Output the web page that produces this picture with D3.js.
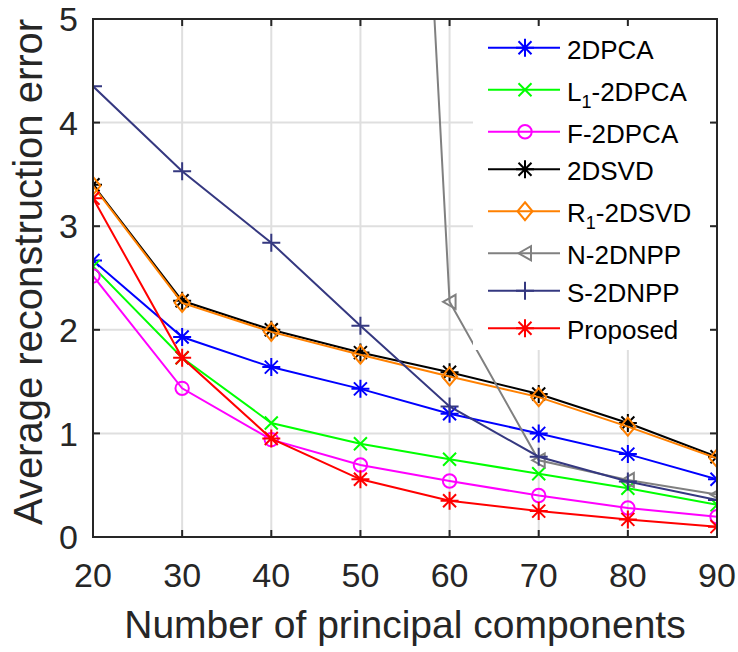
<!DOCTYPE html>
<html>
<head>
<meta charset="utf-8">
<script src="https://cdn.jsdelivr.net/npm/d3@7"></script>
<style>
  body { margin: 0; background: #fff; }
  svg { font-family: "Liberation Sans", Arial, Helvetica, sans-serif; }
</style>
</head>
<body>
<div id="chart"></div>
<script>
// number of principal components (x axis)
var nComponents = [20, 30, 40, 50, 60, 70, 80, 90];

// average reconstruction error for each method
var err2DPCA    = [2.67, 1.93, 1.64, 1.43, 1.19, 1.00, 0.80, 0.557];
var errL1       = [2.61, 1.73, 1.10, 0.90, 0.75, 0.61, 0.47, 0.31];
var errF        = [2.52, 1.435, 0.94, 0.695, 0.54, 0.40, 0.28, 0.196];
var err2DSVD    = [3.40, 2.28, 2.00, 1.78, 1.59, 1.38, 1.10, 0.775];
var errR1       = [3.39, 2.26, 1.98, 1.76, 1.55, 1.35, 1.065, 0.76];
var errN        = [null, null, null, 18.4, 2.27, 0.74, 0.55, 0.41];   // first points are far off the top
var errS        = [4.35, 3.53, 2.84, 2.04, 1.26, 0.775, 0.535, 0.357];
var errProposed = [3.27, 1.73, 0.95, 0.557, 0.35, 0.25, 0.17, 0.10];

var xTicks = [20, 30, 40, 50, 60, 70, 80, 90];
var yTicks = [0, 1, 2, 3, 4, 5];

var series = [
  { name: "2DPCA",     values: err2DPCA,    color: "#0000ff", marker: "star" },
  { name: "L_1-2DPCA", values: errL1,       color: "#00ff00", marker: "x" },
  { name: "F-2DPCA",   values: errF,        color: "#ff00ff", marker: "circle" },
  { name: "2DSVD",     values: err2DSVD,    color: "#000000", marker: "star" },
  { name: "R_1-2DSVD", values: errR1,       color: "#ff8000", marker: "diamond" },
  { name: "N-2DNPP",   values: errN,        color: "#808080", marker: "triLeft" },
  { name: "S-2DNPP",   values: errS,        color: "#353880", marker: "plus" },
  { name: "Proposed",  values: errProposed, color: "#ff0000", marker: "star" }
];

var width = 738, height = 652;
var margin = { top: 19, right: 21, bottom: 115, left: 93 };
var innerW = width - margin.left - margin.right,
  innerH = height - margin.top - margin.bottom;
var axisColor = "#262626";

var svg = d3.select("#chart").append("svg")
  .attr("width", width)
  .attr("height", height);

var g = svg.append("g")
  .attr("transform", "translate(" + margin.left + "," + margin.top + ")");

var x = d3.scaleLinear().domain([20, 90]).range([0, innerW]);
var y = d3.scaleLinear().domain([0, 5]).range([innerH, 0]);

svg.append("defs").append("clipPath")
  .attr("id", "plotClip")
  .append("rect")
  .attr("width", innerW)
  .attr("height", innerH);

// grid
g.append("g")
  .selectAll("line")
  .data(xTicks)
  .enter().append("line")
  .attr("x1", function(d) { return x(d); })
  .attr("x2", function(d) { return x(d); })
  .attr("y1", 0)
  .attr("y2", innerH)
  .attr("stroke", "#dfdfdf")
  .attr("stroke-width", 2);

g.append("g")
  .selectAll("line")
  .data(yTicks)
  .enter().append("line")
  .attr("x1", 0)
  .attr("x2", innerW)
  .attr("y1", function(d) { return y(d); })
  .attr("y2", function(d) { return y(d); })
  .attr("stroke", "#dfdfdf")
  .attr("stroke-width", 2);

function markerPath(type) {
  var p = d3.path();
  if (type === "star") {
    var h = 9, d = 6.5;
    p.moveTo(-h, 0); p.lineTo(h, 0);
    p.moveTo(0, -h); p.lineTo(0, h);
    p.moveTo(-d, -d); p.lineTo(d, d);
    p.moveTo(-d, d); p.lineTo(d, -d);
  } else if (type === "x") {
    var e = 6.5;
    p.moveTo(-e, -e); p.lineTo(e, e);
    p.moveTo(-e, e); p.lineTo(e, -e);
  } else if (type === "circle") {
    p.arc(0, 0, 6.7, 0, 2 * Math.PI);
  } else if (type === "diamond") {
    p.moveTo(0, -9); p.lineTo(7.5, 0); p.lineTo(0, 9); p.lineTo(-7.5, 0); p.closePath();
  } else if (type === "triLeft") {
    p.moveTo(-6.5, 0); p.lineTo(6, -7); p.lineTo(6, 7); p.closePath();
  } else if (type === "plus") {
    p.moveTo(-9, 0); p.lineTo(9, 0);
    p.moveTo(0, -9); p.lineTo(0, 9);
  }
  return p.toString();
}

var line = d3.line()
  .defined(function(d) { return d.v !== null; })
  .x(function(d) { return x(d.n); })
  .y(function(d) { return y(d.v); });

var plot = g.append("g").attr("clip-path", "url(#plotClip)");

series.forEach(function(s) {
  var pts = s.values.map(function(v, i) {
    return { n: nComponents[i], v: v };
  });
  var sg = plot.append("g");
  sg.append("path")
    .datum(pts)
    .attr("d", line)
    .attr("fill", "none")
    .attr("stroke", s.color)
    .attr("stroke-width", 2);
  sg.selectAll(".mk")
    .data(pts.filter(function(d) { return d.v !== null; }))
    .enter().append("path")
    .attr("class", "mk")
    .attr("transform", function(d) {
      return "translate(" + x(d.n) + "," + y(d.v) + ")";
    })
    .attr("d", markerPath(s.marker))
    .attr("fill", "none")
    .attr("stroke", s.color)
    .attr("stroke-width", 2);
});

// legend (white box, no border)
var legX = 380, legY = 5;
var legend = g.append("g");
legend.append("rect")
  .attr("x", legX)
  .attr("y", legY)
  .attr("width", innerW - legX - 5)
  .attr("height", 326)
  .attr("fill", "#fff");

var rowY = legY + 5;
series.forEach(function(s) {
  var hasSub = s.name.indexOf("_") >= 0;
  var rowH = hasSub ? 46.5 : 37.5;
  var cy = rowY + rowH / 2;
  rowY += rowH;

  var row = legend.append("g").attr("transform", "translate(0," + cy + ")");
  row.append("line")
    .attr("x1", 395).attr("x2", 467)
    .attr("stroke", s.color)
    .attr("stroke-width", 2);
  row.append("path")
    .attr("transform", "translate(432,0)")
    .attr("d", markerPath(s.marker))
    .attr("fill", "none")
    .attr("stroke", s.color)
    .attr("stroke-width", 2);

  var t = row.append("text")
    .attr("x", 474)
    .attr("y", 11)
    .attr("font-size", 26)
    .attr("fill", "#000");
  if (hasSub) {
    var m = s.name.match(/^(.*)_(\d)(.*)$/);
    t.append("tspan").text(m[1]);
    t.append("tspan").attr("font-size", 18).attr("dy", 7).text(m[2]);
    t.append("tspan").attr("dy", -7).text(m[3]);
  } else {
    t.text(s.name);
  }
});

// box + ticks
g.append("rect")
  .attr("width", innerW)
  .attr("height", innerH)
  .attr("fill", "none")
  .attr("stroke", axisColor)
  .attr("stroke-width", 2);

var tickLen = 7;
var ticks = g.append("g").attr("stroke", axisColor).attr("stroke-width", 2);
xTicks.forEach(function(d) {
  ticks.append("line").attr("x1", x(d)).attr("x2", x(d)).attr("y1", innerH).attr("y2", innerH - tickLen);
  ticks.append("line").attr("x1", x(d)).attr("x2", x(d)).attr("y1", 0).attr("y2", tickLen);
});
yTicks.forEach(function(d) {
  ticks.append("line").attr("x1", 0).attr("x2", tickLen).attr("y1", y(d)).attr("y2", y(d));
  ticks.append("line").attr("x1", innerW).attr("x2", innerW - tickLen).attr("y1", y(d)).attr("y2", y(d));
});

// tick labels
g.append("g")
  .selectAll("text")
  .data(xTicks)
  .enter().append("text")
  .attr("x", function(d) { return x(d); })
  .attr("y", innerH + 50)
  .attr("text-anchor", "middle")
  .attr("font-size", 34)
  .attr("fill", axisColor)
  .text(function(d) { return d; });

g.append("g")
  .selectAll("text")
  .data(yTicks)
  .enter().append("text")
  .attr("x", -15)
  .attr("y", function(d) { return y(d); })
  .attr("dy", "0.36em")
  .attr("text-anchor", "end")
  .attr("font-size", 34)
  .attr("fill", axisColor)
  .text(function(d) { return d; });

// axis titles
g.append("text")
  .attr("x", innerW / 2)
  .attr("y", innerH + 101)
  .attr("text-anchor", "middle")
  .attr("font-size", 39)
  .attr("fill", axisColor)
  .text("Number of principal components");

svg.append("text")
  .attr("transform", "translate(42,272) rotate(-90)")
  .attr("text-anchor", "middle")
  .attr("font-size", 40)
  .attr("fill", axisColor)
  .text("Average reconstruction error");
</script>
</body>
</html>
